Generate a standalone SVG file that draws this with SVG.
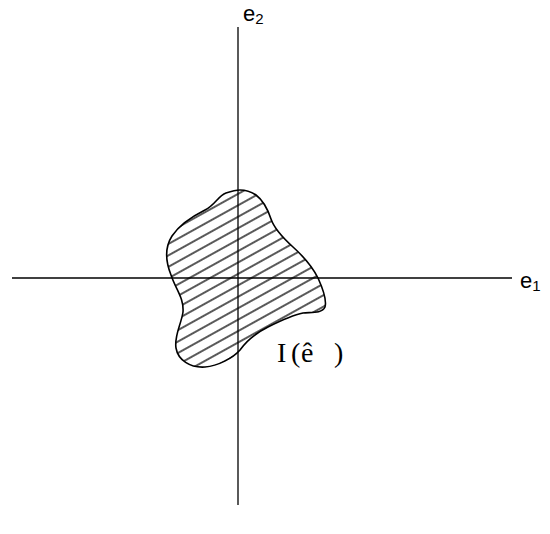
<svg xmlns="http://www.w3.org/2000/svg" width="550" height="534" viewBox="0 0 550 534">
<style>
.ax{stroke:#000;stroke-width:1.3;fill:none}
.lbl{font-family:"Liberation Sans",Arial,sans-serif;fill:#000}
</style>
<defs>
<pattern id="hatch" patternUnits="userSpaceOnUse" width="20" height="10" patternTransform="rotate(-29)">
<line x1="0" y1="5" x2="20" y2="5" stroke="#000" stroke-width="1.3"/>
</pattern>
<clipPath id="blobClip">
<path id="blobPath" d="M240,190 C245,190 250,191 256,195 C264,201 268,210 271,219 C274,228 282,237 293,247 C303,256 312,266 318,278 C323,289 327,300 325,307 C322,314 310,312 303,313 C293,315 280,321 268,327 C256,333 247,340 240,350 C233,358 218,366 205,367 C190,368 178,360 176,348 C174,336 181,325 183,312 C184,298 176,290 171,275 C165,260 165,247 172,236 C180,224 193,216 205,210 C215,205 218,196 226,193 C232,191 236,190 240,190 Z"/>
</clipPath>
</defs>
<g id="connectors">
<line class="ax" x1="238" y1="27" x2="238" y2="505"/>
<line class="ax" x1="12" y1="278" x2="512" y2="278"/>
</g>
<g id="region">
<rect x="150" y="180" width="190" height="200" fill="url(#hatch)" clip-path="url(#blobClip)"/>
<use href="#blobPath" fill="none" stroke="#000" stroke-width="1.6"/>
</g>
<g id="label-e2">
<text class="lbl" x="243" y="21" font-size="22">e<tspan font-size="15" dy="3">2</tspan></text>
</g>
<g id="label-e1">
<text class="lbl" x="520" y="288" font-size="22">e<tspan font-size="15" dy="3">1</tspan></text>
</g>
<g id="label-I">
<text y="362" font-size="28" font-family="'Liberation Serif','Times New Roman',serif"><tspan x="277">I</tspan><tspan x="291">(</tspan><tspan x="301">ê</tspan><tspan x="334">)</tspan></text>
</g>
</svg>
